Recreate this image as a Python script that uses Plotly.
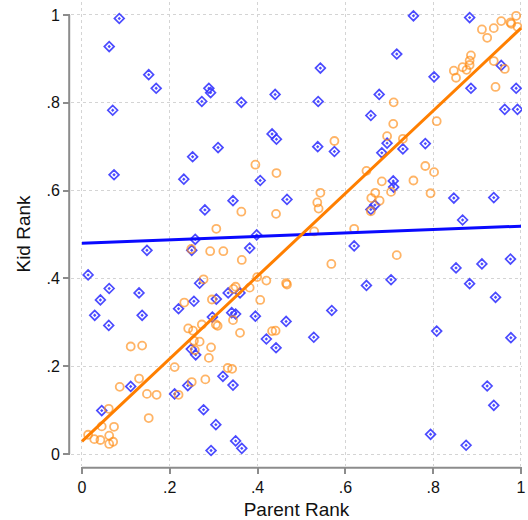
import plotly.graph_objects as go

# Blue diamonds (uncorrelated)
blue_x = [0.085, 0.062, 0.152, 0.169, 0.289, 0.293, 0.440, 0.273, 0.363, 0.070,
          0.433, 0.443, 0.310, 0.252, 0.073, 0.232, 0.406, 0.467, 0.344, 0.280,
          0.755, 0.883, 0.717, 0.543, 0.802, 0.955, 0.886, 0.989, 0.677, 0.538,
          0.963, 0.992, 0.658, 0.537, 0.575, 0.695, 0.683, 0.731, 0.782, 0.709,
          0.710, 0.847, 0.938, 0.667, 0.658, 0.867,
          0.258, 0.398, 0.148, 0.250, 0.382, 0.014, 0.062, 0.042, 0.130, 0.029,
          0.137, 0.061, 0.268, 0.255, 0.220, 0.306, 0.333, 0.360, 0.297, 0.341,
          0.350, 0.395, 0.465, 0.420, 0.442, 0.249, 0.259, 0.321, 0.344, 0.241,
          0.111, 0.211, 0.045, 0.277, 0.305, 0.350, 0.364, 0.294,
          0.620, 0.648, 0.704, 0.569, 0.528, 0.852, 0.911, 0.976, 0.883, 0.942,
          0.808, 0.977, 0.923, 0.938, 0.794, 0.875]
blue_y = [0.992, 0.928, 0.864, 0.833, 0.833, 0.823, 0.819, 0.803, 0.801, 0.783,
          0.729, 0.717, 0.698, 0.677, 0.636, 0.626, 0.623, 0.580, 0.577, 0.556,
          0.998, 0.994, 0.911, 0.879, 0.859, 0.885, 0.833, 0.833, 0.819, 0.803,
          0.785, 0.785, 0.771, 0.700, 0.689, 0.708, 0.686, 0.695, 0.707, 0.622,
          0.608, 0.583, 0.584, 0.567, 0.557, 0.533,
          0.489, 0.499, 0.464, 0.464, 0.469, 0.408, 0.377, 0.351, 0.367, 0.316,
          0.316, 0.293, 0.389, 0.348, 0.331, 0.353, 0.367, 0.367, 0.312, 0.322,
          0.319, 0.314, 0.302, 0.262, 0.242, 0.239, 0.226, 0.177, 0.157, 0.156,
          0.154, 0.137, 0.099, 0.101, 0.067, 0.030, 0.013, 0.008,
          0.474, 0.384, 0.397, 0.327, 0.266, 0.424, 0.433, 0.444, 0.388, 0.357,
          0.280, 0.265, 0.155, 0.111, 0.045, 0.020]

# Orange circles (correlated)
orange_x = [0.395, 0.443, 0.363, 0.442, 0.306,
            0.989, 0.955, 0.976, 0.978, 0.992, 0.938, 0.911, 0.923, 0.886, 0.883,
            0.883, 0.867, 0.876, 0.847, 0.852, 0.938, 0.963, 0.942, 0.710, 0.709,
            0.808, 0.695, 0.731, 0.575, 0.782, 0.802, 0.648, 0.683, 0.755, 0.543,
            0.536, 0.539, 0.668, 0.704, 0.659, 0.678, 0.794, 0.658, 0.620, 0.529,
            0.249, 0.292, 0.322, 0.364, 0.277, 0.399, 0.420, 0.465, 0.467, 0.350,
            0.345, 0.382, 0.233, 0.296, 0.406, 0.273, 0.305, 0.309, 0.344, 0.242,
            0.253, 0.360, 0.433, 0.441, 0.255, 0.268, 0.111, 0.137, 0.294, 0.257,
            0.289, 0.211, 0.332, 0.342, 0.130, 0.281, 0.250, 0.086, 0.148, 0.170,
            0.220, 0.061, 0.152, 0.045, 0.073, 0.014, 0.062, 0.028, 0.042, 0.062,
            0.071, 0.568, 0.717]
orange_y = [0.659, 0.640, 0.552, 0.547, 0.513,
            0.998, 0.986, 0.983, 0.980, 0.973, 0.970, 0.967, 0.948, 0.908, 0.896,
            0.886, 0.881, 0.875, 0.873, 0.857, 0.895, 0.877, 0.836, 0.801, 0.752,
            0.758, 0.724, 0.718, 0.713, 0.656, 0.642, 0.645, 0.621, 0.623, 0.595,
            0.573, 0.559, 0.595, 0.597, 0.583, 0.577, 0.594, 0.553, 0.513, 0.507,
            0.467, 0.462, 0.462, 0.442, 0.398, 0.403, 0.395, 0.389, 0.386, 0.381,
            0.376, 0.379, 0.345, 0.352, 0.351, 0.295, 0.295, 0.292, 0.305, 0.286,
            0.281, 0.276, 0.280, 0.281, 0.258, 0.256, 0.245, 0.247, 0.243, 0.237,
            0.219, 0.198, 0.196, 0.194, 0.172, 0.170, 0.164, 0.153, 0.137, 0.135,
            0.135, 0.103, 0.082, 0.063, 0.062, 0.044, 0.042, 0.034, 0.032, 0.023,
            0.028, 0.433, 0.453]

# Fitted lines (endpoints)
fit_x = [0.0, 1.0]
blue_fit = [0.480, 0.519]
orange_fit = [0.029, 0.970]

tick_vals = [0, 0.2, 0.4, 0.6, 0.8, 1]
tick_text = ["0", ".2", ".4", ".6", ".8", "1"]

x_range = [-0.025, 1.0023]
y_range = [-0.0272, 1.0295]

axis_col = "#8c8c8c"
font_fam = "Liberation Sans, Arial, sans-serif"

fig = go.Figure()
fig.add_trace(go.Scatter(
    x=blue_x, y=blue_y, mode="markers",
    marker=dict(symbol="diamond-dot", size=7.5, color="rgba(255,255,255,0)",
                line=dict(color="rgba(55,55,255,0.9)", width=1.7)),
    showlegend=False, hoverinfo="skip"))
fig.add_trace(go.Scatter(
    x=orange_x, y=orange_y, mode="markers",
    marker=dict(symbol="circle-open", size=8,
                color="rgba(255,140,20,0.65)",
                line=dict(width=1.8)),
    showlegend=False, hoverinfo="skip"))
fig.add_trace(go.Scatter(
    x=fit_x, y=blue_fit, mode="lines",
    line=dict(color="#0a0aff", width=3),
    showlegend=False, hoverinfo="skip"))
fig.add_trace(go.Scatter(
    x=fit_x, y=orange_fit, mode="lines",
    line=dict(color="#ff7f00", width=3),
    showlegend=False, hoverinfo="skip"))


def to_paper(v, rng):
    return (v - rng[0]) / (rng[1] - rng[0])


# Stata-style detached axis lines spanning the 0..1 data interval
fig.add_shape(type="line", xref="paper", yref="paper",
              x0=-0.004, x1=-0.004,
              y0=to_paper(tick_vals[0], y_range), y1=to_paper(tick_vals[-1], y_range),
              line=dict(color=axis_col, width=2), layer="above")
fig.add_shape(type="line", xref="paper", yref="paper",
              x0=to_paper(tick_vals[0], x_range), x1=to_paper(tick_vals[-1], x_range),
              y0=-0.004, y1=-0.004,
              line=dict(color=axis_col, width=2), layer="above")

fig.update_layout(
    width=528, height=520,
    margin=dict(l=71, r=5, t=2, b=52),
    plot_bgcolor="white", paper_bgcolor="white",
    font=dict(family=font_fam, color="#111", size=16),
)
fig.update_xaxes(
    range=x_range, tickvals=tick_vals, ticktext=tick_text,
    showgrid=True, gridcolor="#d4d4d4", griddash="dot", gridwidth=1,
    zeroline=False, showline=False,
    ticks="outside", ticklen=7, tickcolor=axis_col, tickwidth=2,
    tickfont=dict(size=16),
    title=dict(text="Parent Rank", font=dict(size=19), standoff=8),
)
fig.update_yaxes(
    range=y_range, tickvals=tick_vals, ticktext=tick_text,
    showgrid=True, gridcolor="#d4d4d4", griddash="dot", gridwidth=1,
    zeroline=False, showline=False,
    ticks="outside", ticklen=7, tickcolor=axis_col, tickwidth=2,
    tickfont=dict(size=16),
    title=dict(text="Kid Rank", font=dict(size=19), standoff=10),
)

fig.write_html("out.html", config={"displayModeBar": False},
               post_script="document.body.style.margin='0';document.body.style.overflow='hidden';")
